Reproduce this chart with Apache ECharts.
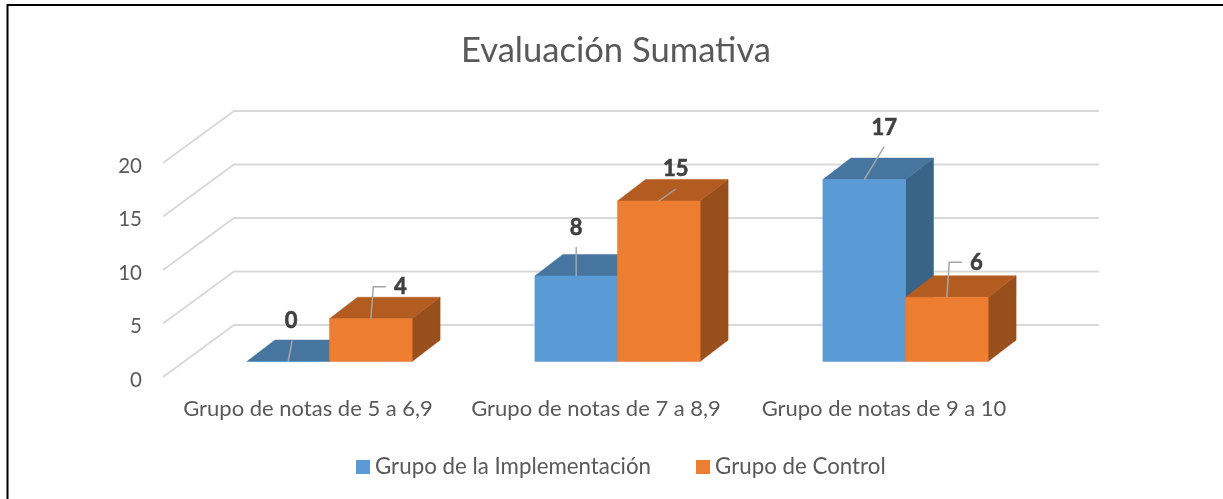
<!DOCTYPE html>
<html>
<head>
<meta charset="utf-8">
<style>html,body{margin:0;padding:0;background:#fff}#c{width:1223px;height:499px}</style>
<script src="https://cdn.jsdelivr.net/npm/echarts@6/dist/echarts.min.js"></script>
</head>
<body>
<div id="c"></div>
<script>
const categories = ['Grupo de notas de 5 a 6,9', 'Grupo de notas de 7 a 8,9', 'Grupo de notas de 9 a 10'];
const implementacion = [0, 8, 17];
const control = [4, 15, 6];
const yTicks = [0, 5, 10, 15, 20];
const FONT = 'Lato, "Open Sans", sans-serif';
const TEXT = '#595959';

// perspective constants (pixels)
const BAR_SHIFT = [21.5, -15.5];
const BAR_W = 82.6;
const DEPTH = [28, -21.5];
const WALL = [71, -52];
const WALL_W = 865;

// leader routes relative to the front-top centre of each bar: points, then label centre
const leadersImpl = [
  {pts: [[0, 0], [4, -21]], label: [3, -41]},
  {pts: [[0, 0], [0, -29]], label: [0, -48]},
  {pts: [[0, 0], [20, -33]], label: [20, -52]}
];
const leadersCtrl = [
  {pts: [[0, 0], [2.5, -32], [15, -32]], label: [29.5, -32]},
  {pts: [[0, 0], [17, -12]], label: [17, -32]},
  {pts: [[0, 0], [2.5, -35], [15, -35]], label: [29.5, -34.5]}
];

function barRenderer(side, front, top, dark) {
  return function (params, api) {
    const c = api.coord([api.value(0), api.value(1)]);
    const base = api.coord([api.value(0), 0]);
    const x0 = c[0] + BAR_SHIFT[0] + (side < 0 ? -BAR_W : 0);
    const x1 = x0 + BAR_W;
    const yT = c[1] + BAR_SHIFT[1];
    const yB = base[1] + BAR_SHIFT[1];
    const dx = DEPTH[0], dy = DEPTH[1];
    const poly = (points, fill) => ({type: 'polygon', shape: {points}, style: {fill, stroke: fill, lineWidth: 0.5}});
    return {type: 'group', children: [
      poly([[x1, yT], [x1 + dx, yT + dy], [x1 + dx, yB + dy], [x1, yB]], dark),
      poly([[x0, yT], [x0 + dx, yT + dy], [x1 + dx, yT + dy], [x1, yT]], top),
      poly([[x0, yT], [x1, yT], [x1, yB], [x0, yB]], front)
    ]};
  };
}

function labelRenderer(side, leaders) {
  return function (params, api) {
    const c = api.coord([api.value(0), api.value(1)]);
    const x = c[0] + BAR_SHIFT[0] + side * BAR_W / 2;
    const y = c[1] + BAR_SHIFT[1];
    const l = leaders[params.dataIndex];
    return {type: 'group', children: [
      {type: 'polyline', shape: {points: l.pts.map(p => [x + p[0], y + p[1]])},
        style: {stroke: '#A6A6A6', lineWidth: 1.5, fill: null}},
      {type: 'text', style: {x: x + l.label[0], y: y + l.label[1], text: String(api.value(1)),
        font: 'bold 22px ' + FONT, fill: '#404040', stroke: '#404040', lineWidth: 0.6, align: 'center', verticalAlign: 'middle'}}
    ]};
  };
}

const indexed = arr => arr.map((v, i) => [i, v]);

const chart = echarts.init(document.getElementById('c'), null, {renderer: 'canvas'});
chart.setOption({
  animation: false,
  backgroundColor: '#fff',
  title: {text: 'Evaluación Sumativa', left: 456, top: 28,
    textStyle: {color: TEXT, fontFamily: FONT, fontSize: 34.6, fontWeight: 'normal'}},
  grid: {left: 164, right: 195, top: 163, bottom: 122},
  xAxis: {type: 'category', data: categories, axisLine: {show: false}, axisTick: {show: false},
    axisLabel: {color: TEXT, fontFamily: FONT, fontSize: 22, margin: 21, interval: 0}},
  yAxis: {type: 'value', min: 0, max: 20, interval: 5, axisLine: {show: false}, axisTick: {show: false},
    splitLine: {show: false},
    axisLabel: {color: TEXT, fontFamily: FONT, fontSize: 20.5, margin: 22, verticalAlign: 'top', lineHeight: 6}},
  legend: {left: 351, top: 451, padding: [5, 5, 5, 5], itemWidth: 14, itemHeight: 14, itemGap: 45,
    icon: 'rect', data: ['Grupo de la Implementación', 'Grupo de Control'],
    textStyle: {color: TEXT, fontFamily: FONT, fontSize: 22.3}},
  graphic: [
    {type: 'polyline', shape: {points: [[7.5, 499], [7.5, 5], [1223, 5]]},
      style: {stroke: '#000', lineWidth: 2, fill: null}, silent: true}
  ],
  series: [
    {type: 'custom', name: 'pared', z: 1, silent: true, data: yTicks.map(v => [0, v]),
      renderItem(params, api) {
        const y = api.coord([0, api.value(1)])[1];
        const x = params.coordSys.x;
        return {type: 'polyline', shape: {points: [[x - 1, y], [x - 1 + WALL[0], y + WALL[1]], [x - 1 + WALL[0] + WALL_W, y + WALL[1]]]},
          style: {stroke: '#D9D9D9', lineWidth: 2, fill: null}};
      }},
    {type: 'custom', name: 'Grupo de la Implementación', z: 2, data: indexed(implementacion),
      itemStyle: {color: '#5B9BD5'},
      renderItem: barRenderer(-1, '#5B9BD5', '#4675A0', '#3A6487')},
    {type: 'custom', name: 'Grupo de Control', z: 3, data: indexed(control),
      itemStyle: {color: '#ED7D31'},
      renderItem: barRenderer(1, '#ED7D31', '#B35C21', '#984F1B')},
    {type: 'custom', name: 'etiquetas1', z: 4, silent: true, data: indexed(implementacion),
      renderItem: labelRenderer(-1, leadersImpl)},
    {type: 'custom', name: 'etiquetas2', z: 4, silent: true, data: indexed(control),
      renderItem: labelRenderer(1, leadersCtrl)}
  ]
});
</script>
</body>
</html>
